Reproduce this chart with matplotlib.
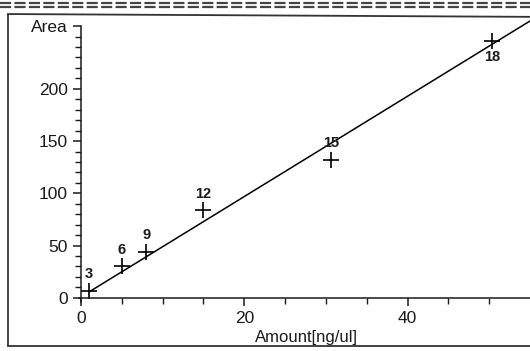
import matplotlib
matplotlib.use("Agg")
import matplotlib.pyplot as plt
from matplotlib.lines import Line2D

plt.rcParams['font.family'] = ['Liberation Sans', 'DejaVu Sans']

# calibration points
amount = [1, 5, 8, 15, 30.6, 50.4]
area = [7, 30, 44, 84, 132, 246]
point_labels = ["3", "6", "9", "12", "15", "18"]

# regression line
slope = 4.8
intercept = 0.9
line_x = [1, 55]

fig = plt.figure(figsize=(5.30, 3.51), dpi=100)
ax = fig.add_axes([0.1528, 0.1396, 0.8472, 0.786])

ax.plot(amount, area, linestyle="none", marker="+", markersize=11,
        markeredgewidth=1.2, color="black")
ax.plot(line_x, [slope * v + intercept for v in line_x], color="black",
        linewidth=1.1, clip_on=False)

for i in range(len(amount)):
    if i == len(amount) - 1:
        ax.text(amount[i], area[i] - 9, point_labels[i], ha="center", va="top",
                fontsize=10.5, fontweight="bold", color="#1a1a1a")
    else:
        ax.text(amount[i], area[i] + 9, point_labels[i], ha="center", va="bottom",
                fontsize=10.5, fontweight="bold", color="#1a1a1a")

ax.set_xlim(0, 55)
ax.set_ylim(-4, 260)
ax.spines['top'].set_visible(False)
ax.spines['right'].set_visible(False)
ax.spines['bottom'].set_position(('data', 0))
ax.spines['bottom'].set_bounds(-0.3, 55)

ax.set_xticks([0, 20, 40])
ax.set_xticks(list(range(5, 55, 5)), minor=True)
ax.set_yticks([0, 50, 100, 150, 200, 260])
ax.set_yticklabels(["0", "50", "100", "150", "200", "Area"])
ax.set_yticks(list(range(10, 260, 10)), minor=True)
ax.tick_params(which="major", length=6, width=1.1, labelsize=12.5, color="#1a1a1a",
               labelcolor="#1a1a1a")
ax.tick_params(which="minor", length=4, width=1.0, color="#1a1a1a")
for s in ax.spines.values():
    s.set_linewidth(1.1)
    s.set_color("#1a1a1a")

fig.text(0.578, 0.018, "Amount[ng/ul]", ha="center", va="bottom", fontsize=12,
         color="#1a1a1a")

# scanned page frame
fig.add_artist(Line2D([0.015, 0.015], [0.017, 0.958], transform=fig.transFigure,
                      color="#333333", linewidth=1.3))
fig.add_artist(Line2D([0.015, 1.0], [0.960, 0.952], transform=fig.transFigure,
                      color="#333333", linewidth=1.3))
fig.add_artist(Line2D([0.015, 1.0], [0.015, 0.015], transform=fig.transFigure,
                      color="#333333", linewidth=1.3))
for yy in [0.991, 0.981]:
    fig.add_artist(Line2D([0.0, 1.0], [yy, yy], transform=fig.transFigure,
                          color="#444444", linewidth=1.6, linestyle=(0, (5, 1.5))))

fig.savefig("out.png", dpi=100)
